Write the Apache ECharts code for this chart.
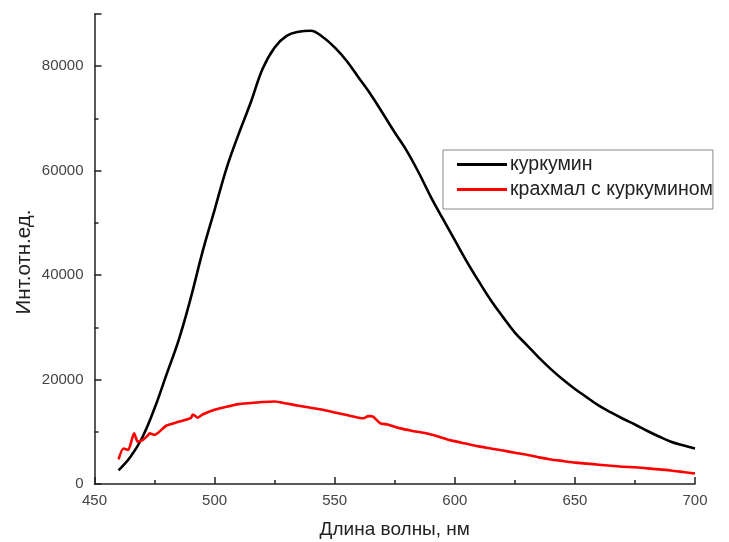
<!DOCTYPE html>
<html>
<head>
<meta charset="utf-8">
<script src="https://cdn.jsdelivr.net/npm/echarts@6/dist/echarts.min.js"></script>
<style>
html,body{margin:0;padding:0;background:#fff;}
#chart{width:729px;height:542px;}
</style>
</head>
<body>
<div id="chart"></div>
<script>
// Wavelengths (nm) and intensities for "куркумин"
var curcuminWl = [460,465,470,475,480,485,490,495,500,505,510,515,520,525,530,535,540,545,550,555,560,565,570,575,580,585,590,595,600,605,610,615,620,625,630,635,640,645,650,655,660,665,670,675,680,685,690,695,700];
var curcuminVal = [2600,5200,9000,14500,21000,27500,35500,44500,52500,60500,67000,73000,79500,83600,85800,86600,86800,85600,83600,81000,77800,74600,71000,67300,63800,59600,55000,50800,46700,42600,38800,35200,32000,29000,26600,24200,22000,20000,18200,16600,15000,13700,12500,11400,10200,9100,8100,7400,6800];

// Wavelengths (nm) and intensities for "крахмал с куркумином"
var starchWl = [460,462,464,466.5,468,470,472,473,475,480,485,490,491,493,495,500,505,510,515,520,525,530,535,540,545,550,555,560,562,564,566,569,572,577,582,588,593,598,605,610,615,620,625,630,635,640,645,650,655,660,665,670,675,680,685,690,695,700];
var starchVal = [4700,6800,6500,9700,8100,8400,9200,9700,9400,11200,11900,12600,13300,12700,13300,14200,14800,15300,15500,15700,15800,15400,15000,14600,14200,13700,13200,12700,12600,13000,12900,11600,11400,10700,10200,9700,9100,8400,7700,7200,6800,6400,6000,5600,5100,4700,4400,4100,3900,3700,3500,3300,3200,3000,2800,2600,2300,2000];

var xTicks = {min:450, max:700, interval:50};
var yTicks = {min:0, max:90000, interval:20000};

function pairs(xs, ys){ return xs.map(function(x,i){ return [x, ys[i]]; }); }

var chart = echarts.init(document.getElementById('chart'), null, {renderer:'canvas'});
var font = '"Liberation Sans", Arial, sans-serif';
chart.setOption({
  animation:false,
  backgroundColor:'#ffffff',
  grid:{left:94.5, right:34, top:14, bottom:58, containLabel:false, outerBoundsMode:'none'},
  legend:{
    orient:'vertical',
    left:443, top:150,
    padding:[4,0,9,14],
    itemGap:4,
    icon:'rect',
    itemWidth:50, itemHeight:3,
    borderColor:'#888', borderWidth:1,
    textStyle:{fontFamily:font, fontSize:19.5, color:'#222', padding:[0,0,0,-2], lineHeight:21},
    data:['куркумин','крахмал с куркумином']
  },
  xAxis:{
    type:'value', min:xTicks.min, max:xTicks.max, interval:xTicks.interval,
    name:'Длина волны, нм', nameLocation:'middle', nameGap:36, nameMoveOverlap:false,
    nameTextStyle:{fontFamily:font, fontSize:19, color:'#222'},
    axisLine:{lineStyle:{color:'#222', width:1.5}},
    axisTick:{inside:true, length:7, lineStyle:{color:'#222', width:1.5}},
    minorTick:{show:true, splitNumber:2, length:4, lineStyle:{color:'#222', width:1.5}},
    axisLabel:{fontFamily:font, fontSize:15, color:'#444', margin:9},
    splitLine:{show:false}
  },
  yAxis:{
    type:'value', min:yTicks.min, max:yTicks.max, interval:yTicks.interval,
    name:'Инт.отн.ед.', nameLocation:'middle', nameGap:60, nameRotate:90, nameMoveOverlap:false,
    nameTextStyle:{fontFamily:font, fontSize:20.5, color:'#222', padding:[0,26,0,0]},
    axisLine:{show:true, lineStyle:{color:'#222', width:1.5}},
    axisTick:{show:true, inside:true, length:7, lineStyle:{color:'#222', width:1.5}},
    minorTick:{show:true, splitNumber:2, length:4, lineStyle:{color:'#222', width:1.5}},
    axisLabel:{fontFamily:font, fontSize:15, color:'#444', margin:11, showMaxLabel:false,
      formatter:function(v){ return String(v); }},
    splitLine:{show:false}
  },
  series:[
    {name:'куркумин', type:'line', data:pairs(curcuminWl, curcuminVal), smooth:0.4,
     symbol:'none', lineStyle:{color:'#000', width:2.6}, itemStyle:{color:'#000'}},
    {name:'крахмал с куркумином', type:'line', data:pairs(starchWl, starchVal), smooth:0.2,
     symbol:'none', lineStyle:{color:'#f00', width:2.6}, itemStyle:{color:'#f00'}}
  ]
});
</script>
</body>
</html>
